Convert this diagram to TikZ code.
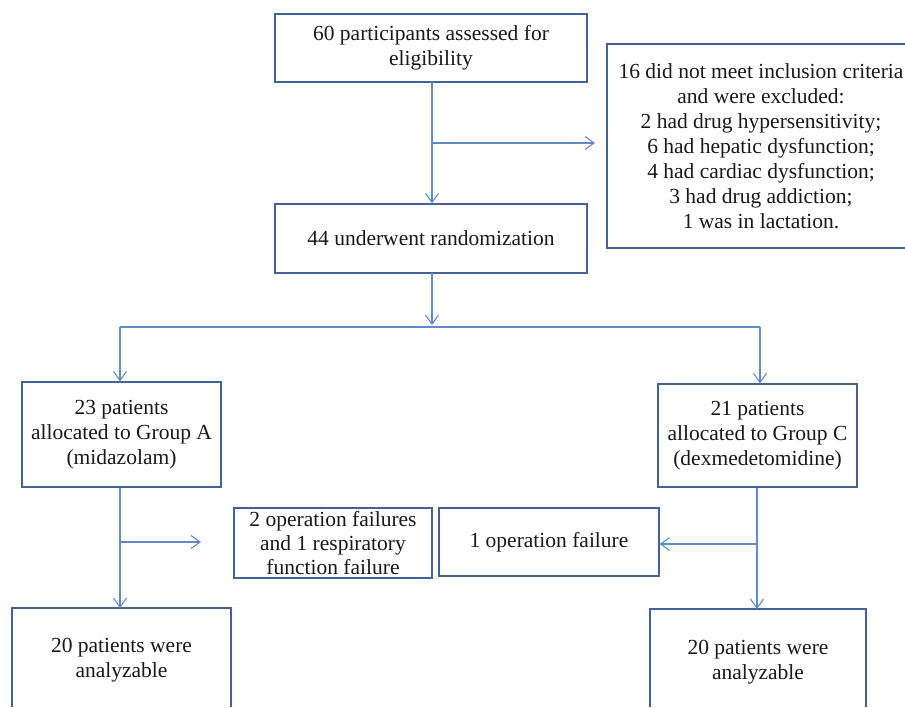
\documentclass[tikz,border=0pt]{standalone}
\usepackage{fontspec}
\setmainfont{Liberation Serif}
\usetikzlibrary{arrows.meta}
\definecolor{boxblue}{RGB}{68,98,150}
\definecolor{lineblue}{RGB}{96,138,200}
\tikzset{
  flowbox/.style={draw=boxblue, line width=1.3pt, inner sep=0pt, align=center,
    font=\fontsize{21.5}{25}\selectfont, text=black!90},
  txtonly/.style={inner sep=0pt, align=center, font=\fontsize{21.5}{25}\selectfont, text=black!90},
  boxside/.style={draw=boxblue, line width=1.3pt},
  conn/.style={draw=lineblue, line width=1.2pt},
  arr/.style={conn, -{Straight Barb[length=9pt,width=13pt,line width=1.1pt]}}
}
\begin{document}
\begin{tikzpicture}[x=1pt,y=-1pt]
\useasboundingbox (0,0) rectangle (905,707);
\fill[white] (0,0) rectangle (905,707);
% boxes
\node[flowbox, minimum width=312pt, minimum height=68pt] (b1) at (431,48) {60 participants assessed for\\eligibility};
\node[flowbox, minimum width=312pt, minimum height=69pt] (b2) at (431,238.5) {44 underwent randomization};
% excluded box (cut by the right edge of the picture)
\coordinate (exnw) at (607,44);
\coordinate (exsw) at (607,248);
\coordinate (exne) at (905,44);
\coordinate (exse) at (905,248);
\draw[boxside] (exne) -- (exnw) -- (exsw) -- (exse);
\node[txtonly] (ex) at (761,146) {16 did not meet inclusion criteria\\and were excluded:\\2 had drug hypersensitivity;\\6 had hepatic dysfunction;\\4 had cardiac dysfunction;\\3 had drug addiction;\\1 was in lactation.};
\node[flowbox, minimum width=199pt, minimum height=105pt] (ga) at (121.5,434.5) {23 patients\\allocated to Group A\\(midazolam)};
\node[flowbox, minimum width=199pt, minimum height=103pt] (gc) at (757.5,435.5) {21 patients\\allocated to Group C\\(dexmedetomidine)};
\node[flowbox, minimum width=198pt, minimum height=70pt, font=\fontsize{21.5}{24}\selectfont] (fa) at (333,543) {2 operation failures\\and 1 respiratory\\function failure};
\node[flowbox, minimum width=220pt, minimum height=68pt] (fc) at (549,542) {1 operation failure};
% bottom boxes (cut by the lower edge of the picture)
\coordinate (aasw) at (12,707);
\coordinate (aanw) at (12,608);
\coordinate (aane) at (231,608);
\coordinate (aase) at (231,707);
\draw[boxside] (aasw) -- (aanw) -- (aane) -- (aase);
\node[txtonly] (aa) at (121.5,660) {20 patients were\\analyzable};
\coordinate (acsw) at (650,707);
\coordinate (acnw) at (650,609);
\coordinate (acne) at (866,609);
\coordinate (acse) at (866,707);
\draw[boxside] (acsw) -- (acnw) -- (acne) -- (acse);
\node[txtonly] (ac) at (758,662.5) {20 patients were\\analyzable};
% coordinates
\coordinate (t1) at (432,82);
\coordinate (br1) at (432,143);
\coordinate (ex1) at (595,143);
\coordinate (t2) at (432,273);
\coordinate (r2) at (432,325);
\coordinate (sl) at (120,327);
\coordinate (sr) at (760,327);
\coordinate (brA) at (120,542);
\coordinate (fA) at (201,542);
\coordinate (brC) at (757,544);
% connectors
\draw[arr] (t1) -- (t1 |- b2.north);
\draw[arr] (br1) -- (ex1);
\draw[arr] (t2) -- (r2);
\draw[conn] (sl) -- (sr);
\draw[arr] (sl) -- (sl |- ga.north);
\draw[arr] (sr) -- (sr |- gc.north);
\draw[arr] (sl |- ga.south) -- (sl |- aanw);
\draw[arr] (brA) -- (fA);
\draw[arr] (brC |- gc.south) -- (brC |- acnw);
\draw[arr] (brC) -- (brC -| fc.east);
\end{tikzpicture}
\end{document}
